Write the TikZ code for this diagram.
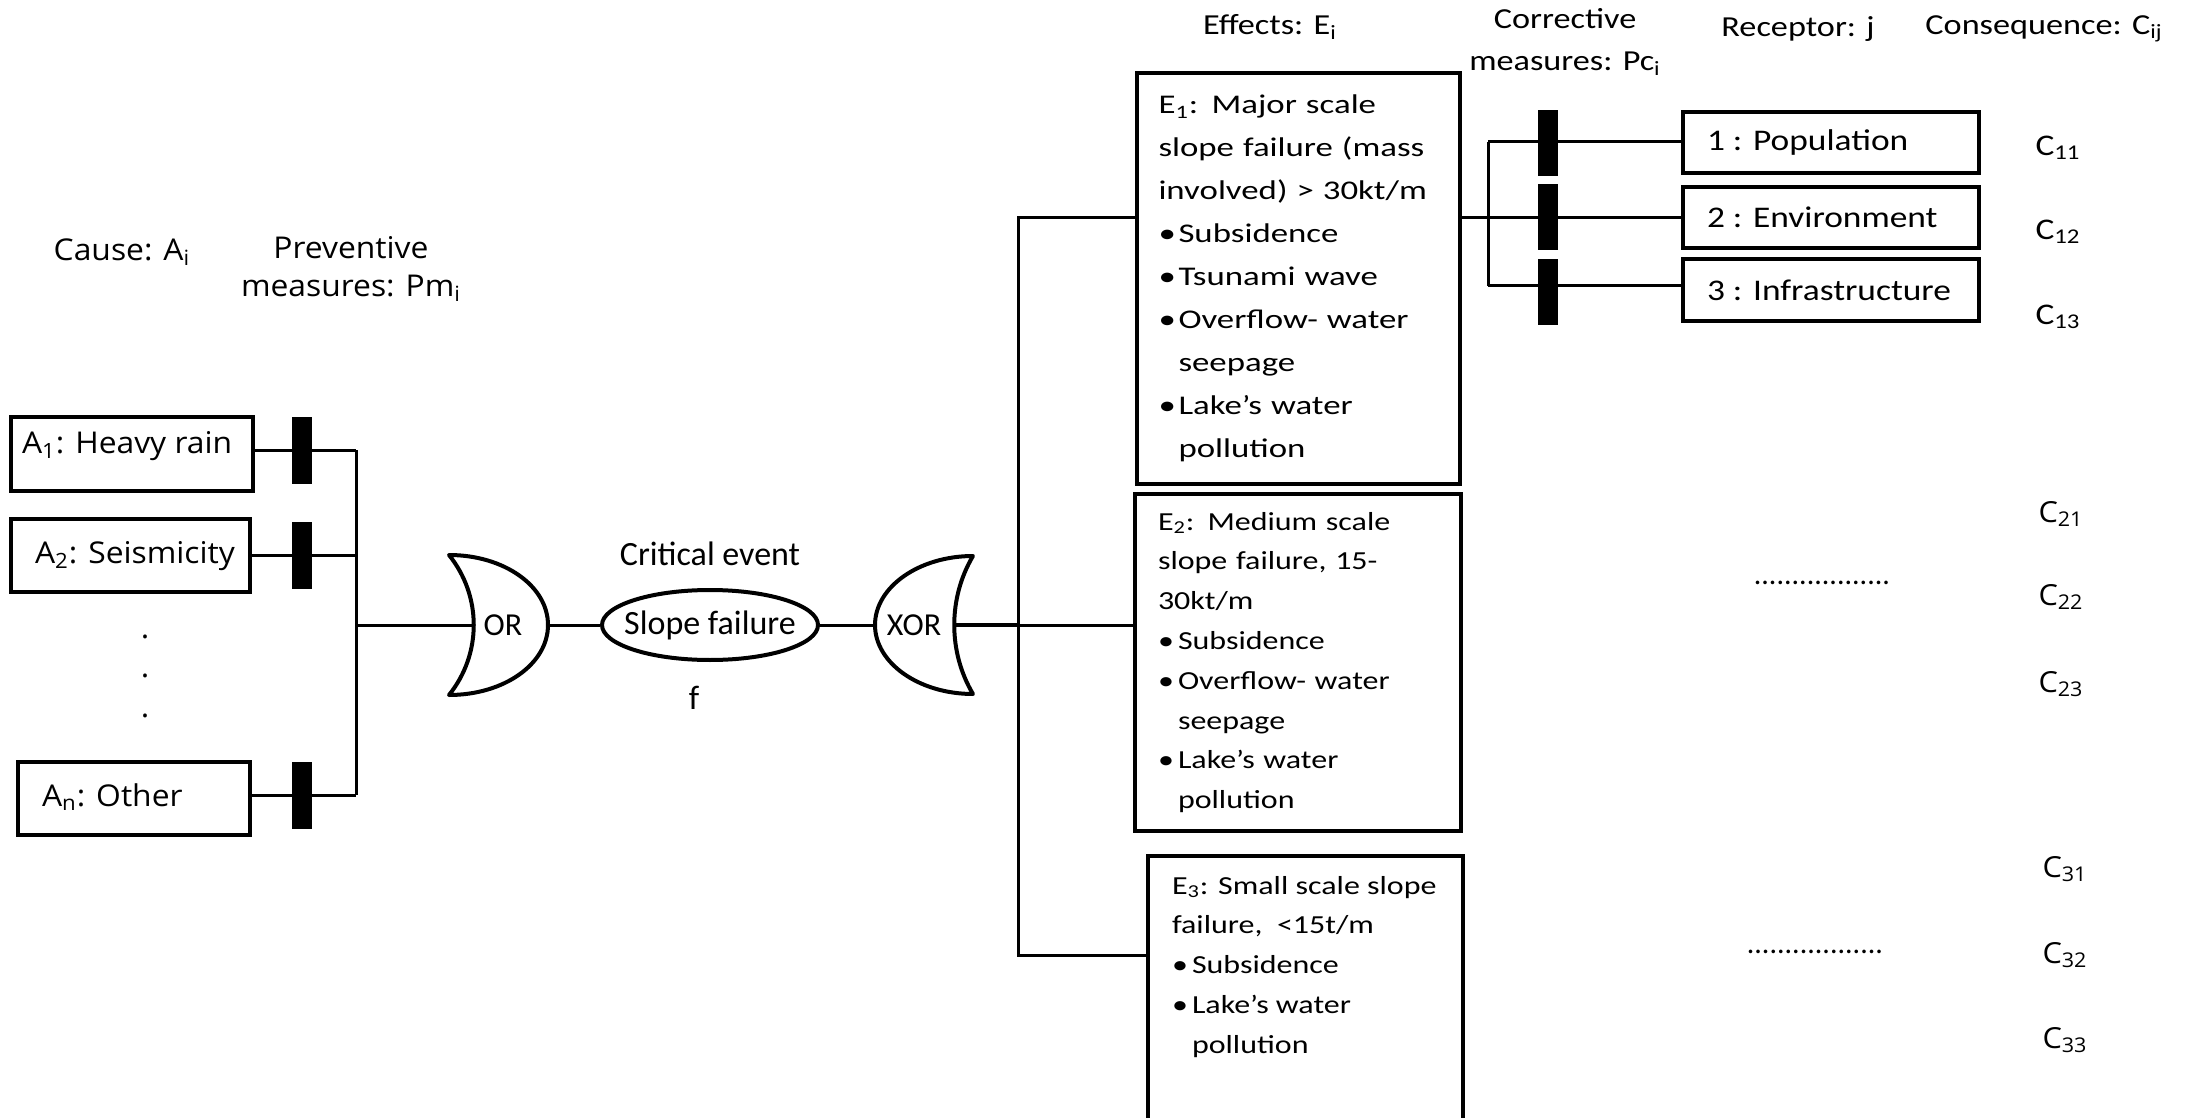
\documentclass[tikz,border=0pt]{standalone}
\usepackage{fontspec}
\setmainfont{Carlito}
\newfontfamily\osans[FakeStretch=1.06]{Open Sans}
\newfontfamily\calh[FakeStretch=1.18]{Carlito}
\newfontfamily\calw[FakeStretch=1.23]{Carlito}
\newfontfamily\calx[FakeStretch=1.29]{Carlito}
\usetikzlibrary{positioning}
\usetikzlibrary{shapes.geometric}

\newcommand{\sbs}[1]{\textsubscript{#1}}
\newcommand{\lbox}[2]{\makebox[#1][l]{#2}}
\newcommand{\itm}{\makebox[10pt][l]{\textbullet}}
\newcommand{\cnt}{\hspace*{10pt}}

\begin{document}
\begin{tikzpicture}[thick, x=0.5pt, y=-0.5pt,
  wire/.style={line width=1.5pt},
  gate/.style={line width=2pt, line join=round},
  mbar/.style={fill=black, inner sep=0pt, minimum width=10pt, minimum height=33.5pt},
  box/.style={draw, line width=2pt, align=left},
  causebox/.style={box, inner ysep=0pt, font=\osans\fontsize{15}{19}\selectfont},
  effbox/.style={box, inner ysep=0pt, text width=140pt},
  recbox/.style={box, minimum width=148pt, minimum height=30.5pt, inner xsep=12pt, inner ysep=0pt, font=\calh\fontsize{15}{18}\selectfont},
  head/.style={align=center, font=\calh\fontsize{14.5}{21}\selectfont},
  shead/.style={align=center, font=\osans\fontsize{15}{19}\selectfont},
  cons/.style={font=\calh\fontsize{15}{18}\selectfont},
  wcons/.style={font=\osans\fontsize{14.5}{18}\selectfont},
  gtext/.style={font=\fontsize{16}{19}\selectfont}]
\useasboundingbox (0,0) rectangle (2201,1118);

\node [shead] (cause) at (122,252) {Cause: A\sbs{i}};
\node [shead] (prev) at (351,269) {Preventive\\measures: Pm\sbs{i}};
\node [head] (effects) at (1270,27) {Effects: E\sbs{i}};
\node [head] (corr) at (1565,42) {Corrective\\measures: Pc\sbs{i}};
\node [head] (recp) at (1798,29) {Receptor: j};
\node [head] (conseq) at (2044,29) {Consequence: C\sbs{ij}};

\node [causebox, inner xsep=5.5pt, text height=18pt, text depth=19pt] (a1) at (132,454) {\lbox{110pt}{A\sbs{1}: Heavy rain}};
\node [causebox, inner xsep=12pt, text height=22pt, text depth=14.5pt] (a2) at (130.5,555.5) {\lbox{95.5pt}{A\sbs{2}: Seismicity}};
\node [causebox, inner xsep=12pt, text height=22pt, text depth=14.5pt] (an) at (134,798.5) {\lbox{92pt}{A\sbs{n}: Other}};
\node [shead, font=\osans\fontsize{15}{19.75}\selectfont] (adots) at (145,676) {.\\.\\.};

\node [mbar] (pm1) at (302,450) {};
\node [mbar] (pm2) at (302,555) {};
\node [mbar] (pmn) at (302,795) {};
\coordinate (cbus) at (356,625);

\node [gtext] (orgate) at (503,625) {OR};
\node [draw, ellipse, line width=2pt, minimum width=108pt, minimum height=35pt, inner sep=0pt, font=\fontsize{17}{20}\selectfont] (slope) at (710,625) {\makebox[0pt]{Slope failure}};
\node [above=7.5pt, at=(slope.north), font=\fontsize{17}{20}\selectfont] (crit) {Critical event};
\node [below=8.5pt, at=(slope.south), xshift=-8pt, font=\fontsize{17}{20}\selectfont] (freq) {f};
\node [gtext] (xorgate) at (914,625) {XOR};

\draw [gate, shift={(orgate.center)}] (-54,-70) .. controls (1,-70) and (45,-39) .. (45,0) coordinate (orOut)
  .. controls (45,39) and (1,70) .. (-54,70) .. controls (-21,29) and (-21,-29) .. (-54,-70) -- cycle (-29,0) coordinate (orIn);
\draw [gate, shift={(xorgate.center)}] (59,-69) .. controls (5,-69) and (-39,-38) .. (-39,0) coordinate (xorIn)
  .. controls (-39,38) and (5,69) .. (59,69) .. controls (34,27) and (34,-27) .. (59,-69) -- cycle (40,0) coordinate (xorOut);

\node [effbox, inner xsep=10.75pt, minimum height=205.5pt, font=\calx\fontsize{13.5}{21.5}\selectfont] (e1) at (1298.5,278.5) {E\sbs{1}: Major scale\\
slope failure (mass\\
involved) > 30kt/m\\
\itm Subsidence\\
\itm Tsunami wave\\
\itm Overflow- water\\
\cnt seepage\\
\itm Lake’s water\\
\cnt pollution};
\node [effbox, inner xsep=11.5pt, minimum height=168.5pt, font=\calw\fontsize{13}{19.9}\selectfont] (e2) at (1298,662.5) {E\sbs{2}: Medium scale\\
slope failure, 15-\\
30kt/m\\
\itm Subsidence\\
\itm Overflow- water\\
\cnt seepage\\
\itm Lake’s water\\
\cnt pollution};
\node [box, anchor=north west, inner xsep=12pt, inner ysep=10pt, font=\calw\fontsize{13}{19.9}\selectfont] (e3) at (1146,854) {\parbox[t][118pt][t]{133.5pt}{E\sbs{3}: Small scale slope\\
failure, \ <15t/m\\
\itm Subsidence\\
\itm Lake’s water\\
\cnt pollution}};
\coordinate (ebus) at (1018,625);
\coordinate (ej1) at (1018,218);
\coordinate (ej3) at (1018,955);

\node [mbar, minimum height=33pt] (pc1) at (1548,143) {};
\node [mbar, minimum height=33pt] (pc2) at (1548,217) {};
\node [mbar, minimum height=33pt] (pc3) at (1548,292) {};
\coordinate (cb1) at (1488,142);
\coordinate (cb3) at (1488,286);

\node [recbox] (r1) at (1831,142.5) {\lbox{124pt}{1 : Population}};
\node [recbox] (r2) at (1831,217.5) {\lbox{124pt}{2 : Environment}};
\node [recbox, minimum height=31pt] (r3) at (1831,290) {\lbox{124pt}{3 : Infrastructure}};

\node [cons] (c11) at (2058,148) {C\sbs{11}};
\node [cons] (c12) at (2058,232) {C\sbs{12}};
\node [cons] (c13) at (2058,317) {C\sbs{13}};
\node [wcons] (c21) at (2061,514) {C\sbs{21}};
\node [wcons] (c22) at (2061,597) {C\sbs{22}};
\node [wcons] (c23) at (2061,684) {C\sbs{23}};
\node [wcons] (c31) at (2065,869) {C\sbs{31}};
\node [wcons] (c32) at (2065,955) {C\sbs{32}};
\node [wcons] (c33) at (2065,1040) {C\sbs{33}};
\node [font=\fontsize{15}{18}\selectfont] (dots2) at (1822,583) {..................};
\node [font=\fontsize{15}{18}\selectfont] (dots3) at (1815,952) {..................};

\draw [wire] (a1.east |- pm1) -- (pm1 -| cbus);
\draw [wire] (a2.east |- pm2) -- (pm2 -| cbus);
\draw [wire] (an.east |- pmn) -- (pmn -| cbus);
\draw [wire] (pm1 -| cbus) -- (pmn -| cbus);
\draw [wire] (cbus) -- (orIn);
\draw [wire] (orOut) -- (slope.west);
\draw [wire] (slope.east) -- (xorIn);
\draw [wire, line width=2.4pt] (xorOut) -- (ebus);
\draw [wire] (e1.west |- ej1) -- (ej1) -- (ej3) -- (e3.west |- ej3);
\draw [wire] (ebus) -- (e2.west |- ebus);
\draw [wire] (e1.east |- ej1) -- (r2.west |- ej1);
\draw [wire] (cb1) -- (cb3);
\draw [wire] (cb1) -- (r1.west |- cb1);
\draw [wire] (cb3) -- (r3.west |- cb3);
\end{tikzpicture}
\end{document}
